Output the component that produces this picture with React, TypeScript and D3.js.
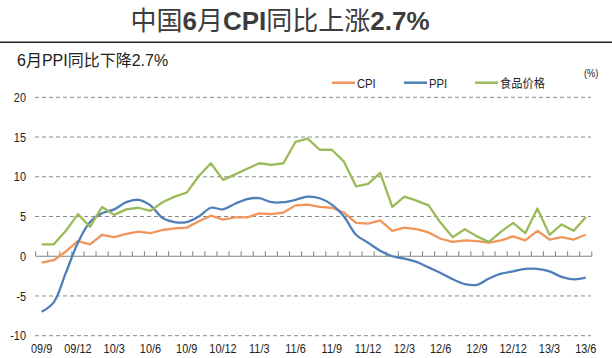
import React from 'react';
import * as d3 from 'd3';

// months 2009/9 .. 2013/6
const months = [
  '09/9', '09/10', '09/11', '09/12',
  '10/1', '10/2', '10/3', '10/4', '10/5', '10/6', '10/7', '10/8', '10/9', '10/10', '10/11', '10/12',
  '11/1', '11/2', '11/3', '11/4', '11/5', '11/6', '11/7', '11/8', '11/9', '11/10', '11/11', '11/12',
  '12/1', '12/2', '12/3', '12/4', '12/5', '12/6', '12/7', '12/8', '12/9', '12/10', '12/11', '12/12',
  '13/1', '13/2', '13/3', '13/4', '13/5', '13/6'
];

const tickLabels = ['09/9', '09/12', '10/3', '10/6', '10/9', '10/12', '11/3', '11/6', '11/9', '11/12', '12/3', '12/6', '12/9', '12/12', '13/3', '13/6'];

const cpi = [
  -0.8, -0.5, 0.6, 1.9,
  1.5, 2.7, 2.4, 2.8, 3.1, 2.9, 3.3, 3.5, 3.6, 4.4, 5.1, 4.6,
  4.9, 4.9, 5.4, 5.3, 5.5, 6.4, 6.5, 6.2, 6.1, 5.5, 4.2, 4.1,
  4.5, 3.2, 3.6, 3.4, 3.0, 2.2, 1.8, 2.0, 1.9, 1.7, 2.0, 2.5,
  2.0, 3.2, 2.1, 2.4, 2.1, 2.7
];

const ppi = [
  -7.0, -5.8, -2.1, 1.7,
  4.3, 5.4, 5.9, 6.8, 7.1, 6.4, 4.8, 4.3, 4.3, 5.0, 6.1, 5.9,
  6.6, 7.2, 7.3, 6.8, 6.8, 7.1, 7.5, 7.3, 6.5, 5.0, 2.7, 1.7,
  0.7, 0.0, -0.3, -0.7, -1.4, -2.1, -2.9, -3.5, -3.6, -2.8, -2.2, -1.9,
  -1.6, -1.6, -1.9, -2.6, -2.9, -2.7
];

const food = [
  1.5, 1.5, 3.2, 5.3,
  3.7, 6.2, 5.2, 5.9, 6.1, 5.7, 6.8, 7.5, 8.0, 10.1, 11.7, 9.6,
  10.3, 11.0, 11.7, 11.5, 11.7, 14.4, 14.8, 13.4, 13.4, 11.9, 8.8, 9.1,
  10.5, 6.2, 7.5, 7.0, 6.4, 4.2, 2.4, 3.4, 2.5, 1.8, 3.1, 4.2,
  2.9, 6.0, 2.7, 4.0, 3.2, 4.9
];

const yTicks = [-10, -5, 0, 5, 10, 15, 20];

const seriesNames = ['CPI', 'PPI', '食品价格'];
const colors = ['#F0965A', '#4F7FB8', '#9BBB59'];

const W = 612;
const H = 358;
const sans = '"Liberation Sans", Arial, "Noto Sans CJK SC", sans-serif';
const squeeze = 0.84; // axis labels in the original are a narrow face

export default function App() {
  const x = d3.scaleBand<string>().domain(months).range([35.6, 591.8]);
  const y = d3.scaleLinear().domain([-10, 20]).range([335.7, 97.3]);
  const cx = (m: string) => (x(m) as number) + x.bandwidth() / 2;

  const straight = d3.line<number>()
    .x((d, i) => cx(months[i]))
    .y(d => y(d));
  const smooth = d3.line<number>()
    .x((d, i) => cx(months[i]))
    .y(d => y(d))
    .curve(d3.curveCatmullRom.alpha(0.5));

  const lines = [
    { name: seriesNames[0], path: straight(cpi), color: colors[0] },
    { name: seriesNames[1], path: smooth(ppi), color: colors[1] },
    { name: seriesNames[2], path: straight(food), color: colors[2] },
  ];

  const legendX = [332, 404, 475];
  const y0 = y(0);
  const boundaries = months.map(m => x(m) as number).concat([x.range()[1]]);

  return (
    <svg width={W} height={H} style={{ position: 'absolute', left: 0, top: 0, background: '#fff' }}>
      <rect width={W} height={H} fill="#fff" />

      {/* title */}
      <text x={280} y={30} textAnchor="middle" fontSize={26} fill="#3c3c3c" fontFamily={sans}>
        <tspan>中国</tspan>
        <tspan fontWeight="bold">6</tspan>
        <tspan>月</tspan>
        <tspan fontWeight="bold">CPI</tspan>
        <tspan>同比上涨</tspan>
        <tspan fontWeight="bold">2.7%</tspan>
      </text>
      <line x1={0} x2={W} y1={42.3} y2={42.3} stroke="#222" strokeWidth={1.5} />
      <text x={17} y={66} fontSize={16} fill="#222" fontFamily={sans}>6月PPI同比下降2.7%</text>
      <text transform={`translate(584,77) scale(${squeeze},1)`} fontSize={11} fill="#222" fontFamily={sans}>(%)</text>

      {/* grid */}
      {yTicks.filter(t => t !== 0).map(t => (
        <line key={'g' + t} x1={35} x2={591} y1={y(t)} y2={y(t)} stroke="#8a8a8a" strokeWidth={1} strokeDasharray="4,3" />
      ))}
      {yTicks.map(t => (
        <text key={'yl' + t} transform={`translate(26,${y(t)}) scale(${squeeze},1)`} dy="0.35em" textAnchor="end" fontSize={13} fill="#222" fontFamily={sans}>{t}</text>
      ))}

      {/* zero axis */}
      <line x1={35.6} x2={591.8} y1={y0} y2={y0} stroke="#808080" strokeWidth={1.2} />
      {boundaries.map((b, i) => (
        <line key={'t' + i} x1={b} x2={b} y1={y0 - 5} y2={y0} stroke="#808080" strokeWidth={1} />
      ))}
      {tickLabels.map(l => (
        <text key={'xl' + l} transform={`translate(${cx(l)},353) scale(${squeeze},1)`} textAnchor="middle" fontSize={13} fill="#222" fontFamily={sans}>{l}</text>
      ))}

      {/* series */}
      {lines.map(s => (
        <path key={s.name} d={s.path || ''} fill="none" stroke={s.color} strokeWidth={2.3} strokeLinejoin="round" />
      ))}

      {/* legend */}
      {lines.map((s, i) => (
        <g key={'lg' + s.name}>
          <line x1={legendX[i]} x2={legendX[i] + 23} y1={82.7} y2={82.7} stroke={s.color} strokeWidth={2.5} />
          <text transform={`translate(${legendX[i] + 25},87.5) scale(0.9,1)`} fontSize={12.5} fill="#222" fontFamily={sans}>{s.name}</text>
        </g>
      ))}
    </svg>
  );
}
